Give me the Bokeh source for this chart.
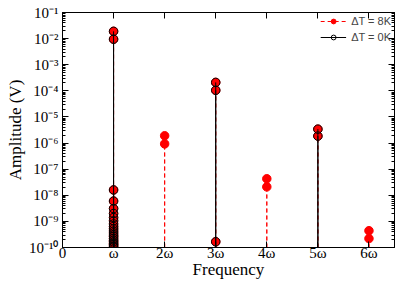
from bokeh.plotting import figure
from bokeh.models import (FixedTicker, LinearAxis, LogAxis, Legend, LegendItem,
                          ColumnDataSource, Range1d)
from bokeh.embed import file_html
from bokeh.resources import INLINE

# ---- data ----
harmonics_8k = [1, 1, 2, 2, 3, 3, 4, 4, 5, 5, 6, 6, 3]
amp_8k = [1.9e-2, 9.5e-3, 1.9e-6, 9.3e-7, 2.1e-4, 1.05e-4, 4.3e-8, 2.1e-8,
          3.4e-6, 1.85e-6, 4.4e-10, 2.2e-10, 1.66e-10]
harmonics_0k = [1, 1, 3, 3, 5, 5, 3]
amp_0k = [1.9e-2, 9.5e-3, 2.1e-4, 1.05e-4, 3.4e-6, 1.85e-6, 1.66e-10]
# low-amplitude components found at omega (both runs)
cluster_amp = [1.6e-8, 6.0e-9, 3.1e-9, 2.0e-9, 1.4e-9, 1.05e-9, 8.0e-10, 6.4e-10,
               5.2e-10, 4.3e-10, 3.6e-10, 3.0e-10, 2.6e-10, 2.2e-10, 1.9e-10,
               1.65e-10, 1.45e-10, 1.28e-10, 1.14e-10, 1.02e-10]
cluster_harm = [1] * len(cluster_amp)

x_ticks = [0, 1, 2, 3, 4, 5, 6]
x_tick_labels = ["0", "ω", "2ω", "3ω", "4ω", "5ω", "6ω"]
y_ticks = [1e-10, 1e-9, 1e-8, 1e-7, 1e-6, 1e-5, 1e-4, 1e-3, 1e-2, 1e-1]
y_tick_labels = ["10⁻¹⁰", "10⁻⁹", "10⁻⁸", "10⁻⁷", "10⁻⁶", "10⁻⁵", "10⁻⁴",
                 "10⁻³", "10⁻²", "10⁻¹"]
X_MIN, X_MAX = 0, 6.5
Y_MIN, Y_MAX = 1e-10, 1e-1

x8 = harmonics_8k + cluster_harm
y8 = amp_8k + cluster_amp
x0 = harmonics_0k + cluster_harm
y0 = amp_0k + cluster_amp

src8 = ColumnDataSource(dict(x=x8, y=y8, base=[Y_MIN] * len(y8)))
src0 = ColumnDataSource(dict(x=x0, y=y0, base=[Y_MIN] * len(y0)))

p = figure(width=415, height=291, output_backend="svg", toolbar_location=None,
           y_axis_type="log", x_range=Range1d(X_MIN, X_MAX),
           y_range=Range1d(Y_MIN, Y_MAX),
           min_border_left=62, min_border_right=21, min_border_top=12,
           min_border_bottom=44)
p.xgrid.visible = False
p.ygrid.visible = False
p.outline_line_color = "black"
p.outline_line_width = 1
p.background_fill_color = "white"
p.border_fill_color = "white"

seg8 = p.segment(x0="x", y0="base", x1="x", y1="y", source=src8,
                 line_color="red", line_dash="4 3", line_width=1)
pts8 = p.scatter(x="x", y="y", source=src8, size=8.5, marker="circle",
                 fill_color="red", line_color="red", line_width=1)
seg0 = p.segment(x0="x", y0="base", x1="x", y1="y", source=src0,
                 line_color="black", line_width=1)
pts0 = p.scatter(x="x", y="y", source=src0, size=8.5, marker="circle",
                 fill_color=None, line_color="black", line_width=1)

minor_y = [m * 10.0 ** e for e in range(-10, -1) for m in range(2, 10)]

xax = p.xaxis[0]
xax.ticker = FixedTicker(ticks=x_ticks, minor_ticks=[])
xax.major_label_overrides = {t: l for t, l in zip(x_ticks, x_tick_labels)}
yax = p.yaxis[0]
yax.ticker = FixedTicker(ticks=y_ticks, minor_ticks=minor_y)
yax.major_label_overrides = {t: l for t, l in zip(y_ticks, y_tick_labels)}

for ax in (xax, yax):
    ax.major_tick_in = 6
    ax.major_tick_out = 0
    ax.minor_tick_in = 3
    ax.minor_tick_out = 0
    ax.major_label_text_font = "Liberation Serif"
    ax.major_label_text_font_size = "15px"
    ax.major_label_text_color = "black"
    ax.axis_label_text_font = "Liberation Serif"
    ax.axis_label_text_font_style = "normal"
    ax.axis_label_text_font_size = "17px"
    ax.axis_label_text_color = "black"
    ax.axis_line_color = "black"
    ax.major_tick_line_color = "black"
    ax.minor_tick_line_color = "black"
xax.axis_label = "Frequency"
yax.axis_label = "Amplitude (V)"
xax.major_label_standoff = -3
xax.axis_label_standoff = -4
yax.major_label_standoff = 4
yax.axis_label_standoff = 1

top = LinearAxis(ticker=FixedTicker(ticks=x_ticks, minor_ticks=[]),
                 major_tick_in=6, major_tick_out=0, minor_tick_in=0, minor_tick_out=0,
                 major_label_text_font_size="1px", major_label_text_color=None,
                 major_label_standoff=0, axis_line_color="black")
right = LogAxis(ticker=FixedTicker(ticks=y_ticks, minor_ticks=minor_y),
                major_tick_in=6, major_tick_out=0, minor_tick_in=3, minor_tick_out=0,
                major_label_text_font_size="1px", major_label_text_color=None,
                major_label_standoff=0, axis_line_color="black")
p.add_layout(top, "above")
p.add_layout(right, "right")

legend = Legend(items=[
    LegendItem(label="ΔT = 8K", renderers=[seg8, pts8]),
    LegendItem(label="ΔT = 0K", renderers=[seg0, pts0]),
], location="top_right")
legend.label_text_font = "Liberation Sans"
legend.label_text_font_size = "11px"
legend.border_line_color = None
legend.background_fill_alpha = 0
legend.glyph_width = 26
legend.glyph_height = 12
legend.spacing = 4
legend.padding = 3
legend.margin = 3
legend.label_height = 12
p.add_layout(legend)

open("out.html", "w").write(file_html(p, INLINE))
